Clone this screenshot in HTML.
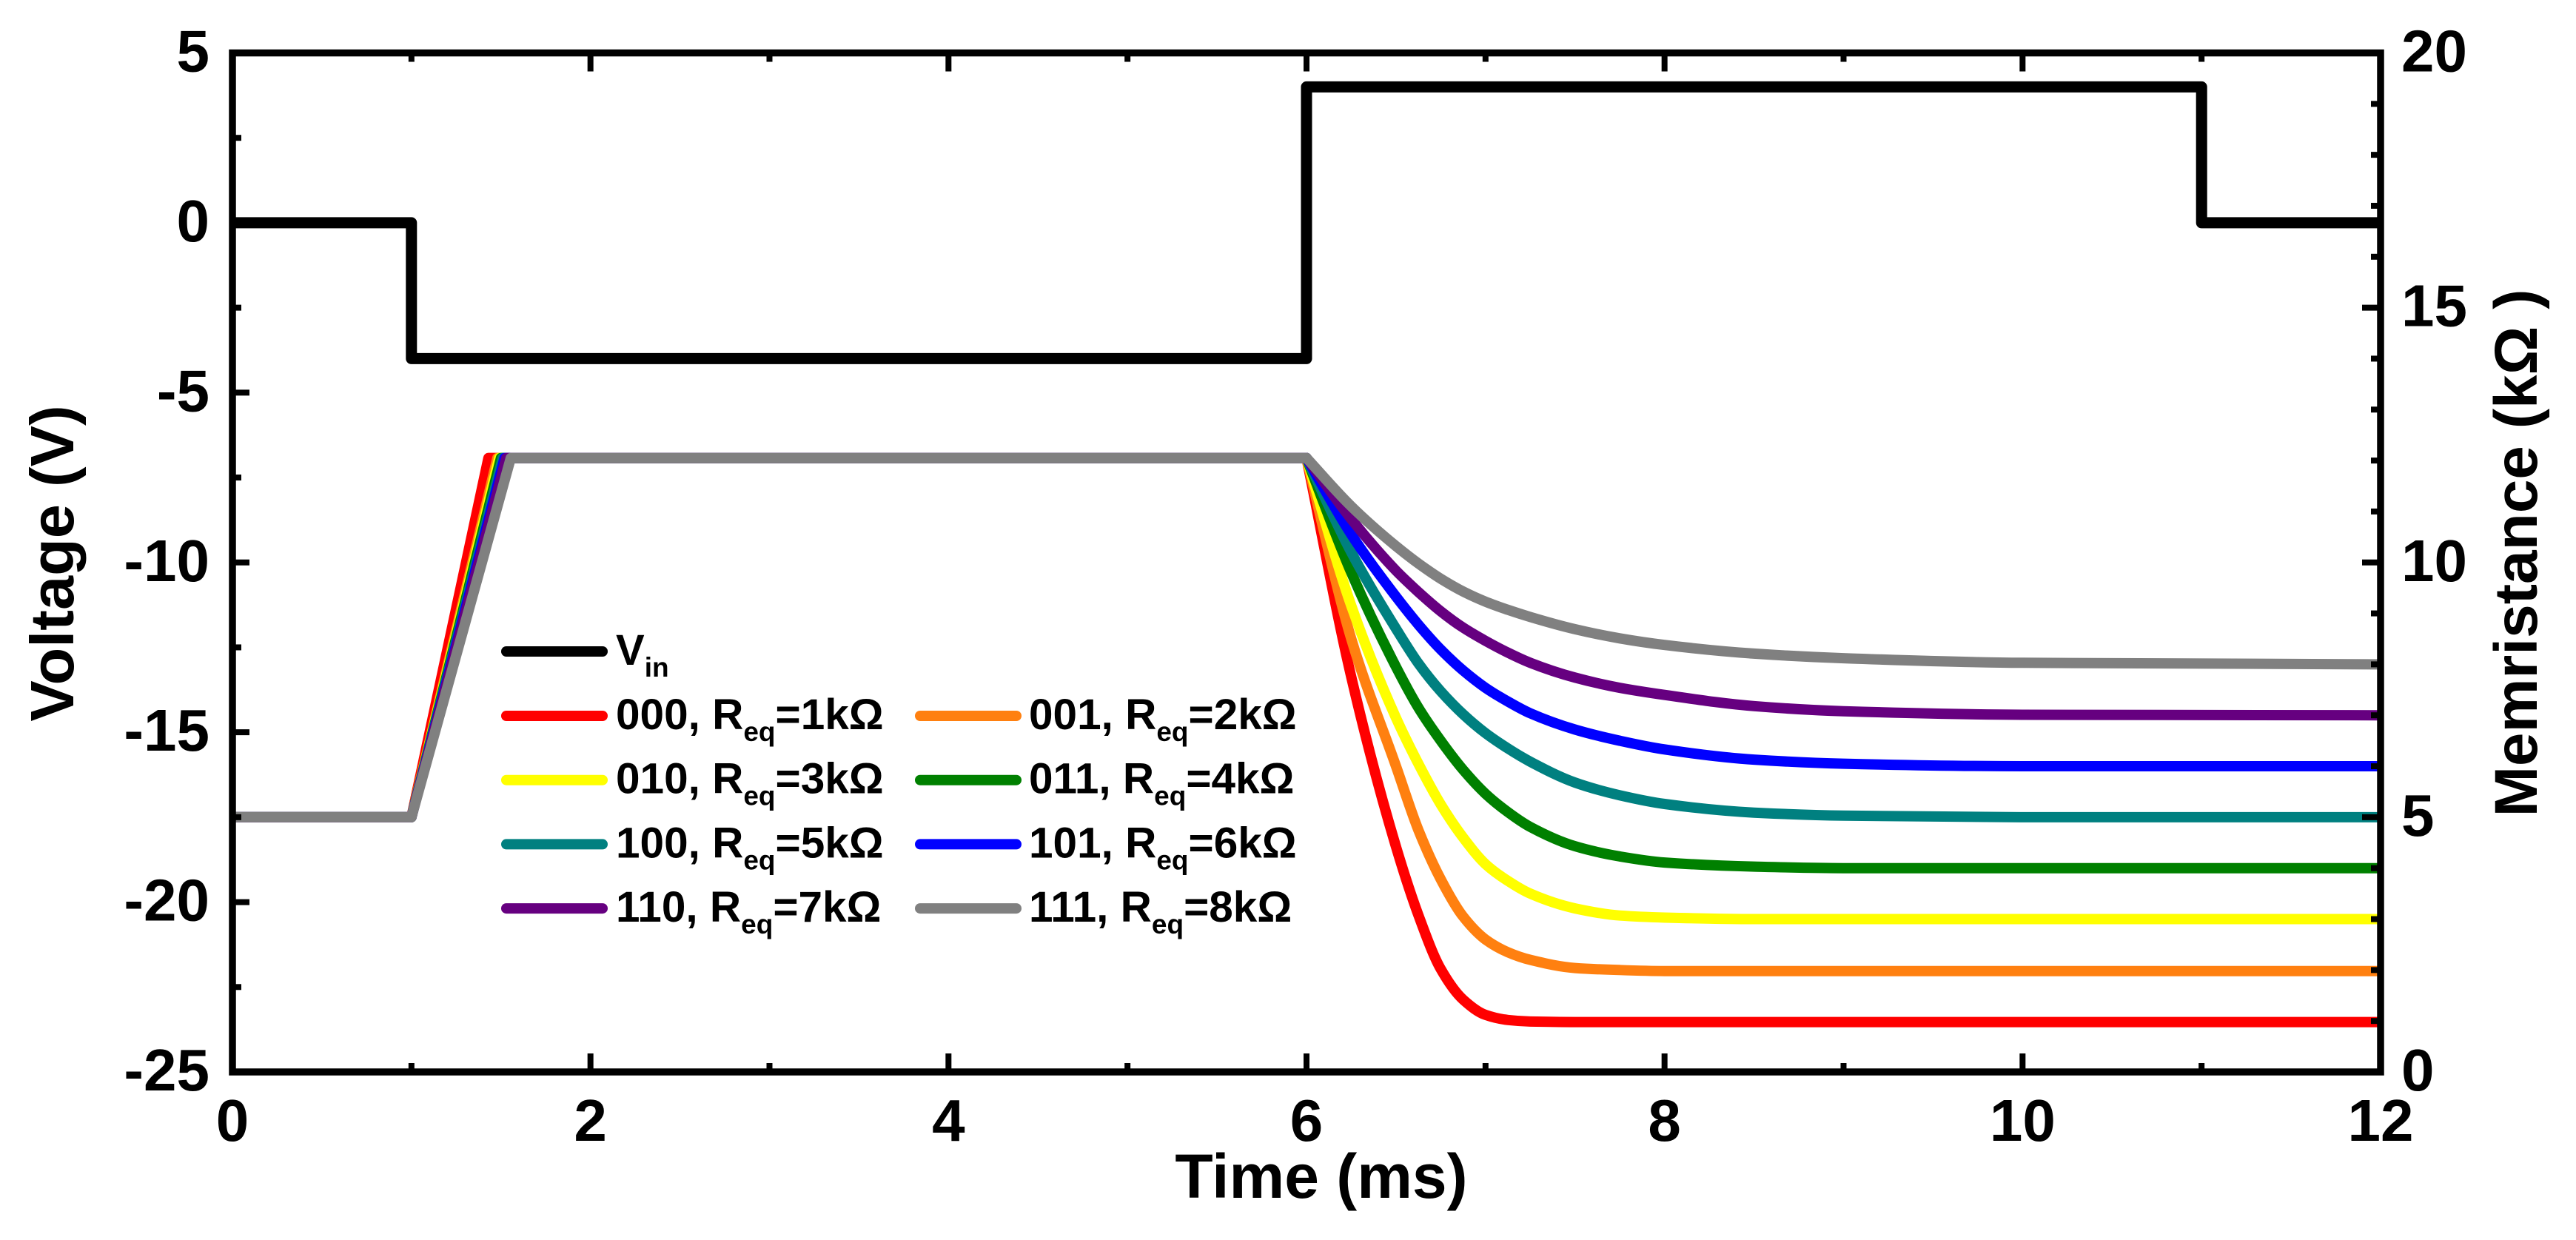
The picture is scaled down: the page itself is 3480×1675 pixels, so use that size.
<!DOCTYPE html>
<html lang="en">
<head>
<meta charset="utf-8">
<title>Voltage and memristance versus time</title>
<style>
  html, body { margin: 0; padding: 0; background: #ffffff; }
  svg { display: block; }
  text { font-family: "Liberation Sans", "DejaVu Sans", sans-serif; font-weight: bold; fill: #000000; }
</style>
</head>
<body>
<svg id="chart" xmlns="http://www.w3.org/2000/svg" width="3480" height="1675" viewBox="0 0 3480 1675">
  <rect x="0" y="0" width="3480" height="1675" fill="#ffffff"/>
  <defs>
    <clipPath id="plot-clip"><rect x="314" y="71" width="2902" height="1377"/></clipPath>
  </defs>
  <g id="series-layer" clip-path="url(#plot-clip)"></g>
  <g id="axis-layer"></g>
  <g id="legend-layer"></g>
  <text x="1785" y="1618" font-size="84" text-anchor="middle">Time (ms)</text>
  <text transform="translate(99 761) rotate(-90)" font-size="83" text-anchor="middle">Voltage (V)</text>
  <text transform="translate(3427 747) rotate(-90)" font-size="82" text-anchor="middle">Memristance (kΩ )</text>
</svg>
<script>
// Axis data
const xTickLabels = [0, 2, 4, 6, 8, 10, 12];
const xMinorTicks = [1, 3, 5, 7, 9, 11];
const voltageTickLabels = [5, 0, -5, -10, -15, -20, -25];
const voltageMinorTicks = [2.5, -2.5, -7.5, -12.5, -17.5, -22.5];
const memristanceTickLabels = [20, 15, 10, 5, 0];
const memristanceMinorTicks = [19, 18, 17, 16, 14, 13, 12, 11, 9, 8, 7, 6, 4, 3, 2, 1];

// Input voltage
const vinTimes = [0, 1, 1, 6, 6, 11, 11, 12];
const vinValues = [0, 0, -4, -4, 4, 4, 0, 0];

// Memristance curves (kOhm)
const seriesLabels = ['000', '001', '010', '011', '100', '101', '110', '111'];
const seriesReq = ['1', '2', '3', '4', '5', '6', '7', '8'];
const seriesColors = ['#ff0000', '#ff8010', '#ffff00', '#008000', '#008080', '#0000ff', '#660080', '#808080'];
const riseStartTime = 1;
const startMemristance = 5;
const peakMemristance = 12.05;
const riseEndTimes = [1.43, 1.48, 1.49, 1.5, 1.51, 1.52, 1.53, 1.555];
const decayTimes = [6, 6.25, 6.5, 6.625, 6.75, 6.875, 7, 7.125, 7.25, 7.5, 7.75, 8, 8.5, 9, 10, 12];
const decay000 = [12.05, 7.75, 4.42, 3.08, 2.02, 1.42, 1.12, 1.02, 0.99, 0.98, 0.98, 0.98, 0.98, 0.98, 0.98, 0.98];
const decay001 = [12.05, 8.5, 6.0, 4.75, 3.78, 3.05, 2.6, 2.35, 2.2, 2.04, 2.0, 1.98, 1.98, 1.98, 1.98, 1.98];
const decay010 = [12.05, 9.15, 6.95, 6.05, 5.25, 4.6, 4.08, 3.75, 3.5, 3.21, 3.07, 3.03, 3.0, 3.0, 3.0, 3.0];
const decay011 = [12.05, 9.8, 7.95, 7.15, 6.5, 5.93, 5.46, 5.1, 4.81, 4.43, 4.23, 4.11, 4.03, 4.0, 4.0, 4.0];
const decay100 = [12.05, 10.2, 8.7, 8.02, 7.47, 7.02, 6.65, 6.35, 6.09, 5.68, 5.43, 5.26, 5.09, 5.03, 5.0, 5.0];
const decay101 = [12.05, 10.55, 9.33, 8.78, 8.29, 7.88, 7.54, 7.27, 7.04, 6.72, 6.5, 6.33, 6.13, 6.05, 6.0, 6.0];
const decay110 = [12.05, 10.85, 9.84, 9.42, 9.04, 8.72, 8.46, 8.23, 8.03, 7.74, 7.54, 7.4, 7.18, 7.08, 7.01, 7.0];
const decay111 = [12.05, 11.1, 10.32, 9.98, 9.68, 9.43, 9.23, 9.07, 8.93, 8.69, 8.51, 8.38, 8.21, 8.12, 8.03, 8.0];
const seriesDecay = [decay000, decay001, decay010, decay011, decay100, decay101, decay110, decay111];

// Scales
const plotLeft = 314, plotRight = 3216, plotTop = 71.5, plotBottom = 1448;
function xScale(t) { return plotLeft + (t / 12) * (plotRight - plotLeft); }
function voltageScale(v) { return plotTop + ((5 - v) / 30) * (plotBottom - plotTop); }
function memristanceScale(m) { return plotBottom - (m / 20) * (plotBottom - plotTop); }

const SVG_NS = 'http://www.w3.org/2000/svg';
const seriesLayer = document.getElementById('series-layer');
const axisLayer = document.getElementById('axis-layer');
const legendLayer = document.getElementById('legend-layer');

function monotoneSegments(points) {
  const n = points.length;
  const dx = [], slope = [], tangent = [];
  for (let i = 0; i < n - 1; i++) {
    dx.push(points[i + 1][0] - points[i][0]);
    slope.push((points[i + 1][1] - points[i][1]) / dx[i]);
  }
  tangent.push(slope[0]);
  for (let i = 1; i < n - 1; i++) {
    if (slope[i - 1] * slope[i] <= 0) {
      tangent.push(0);
    } else {
      const w1 = 2 * dx[i] + dx[i - 1];
      const w2 = dx[i] + 2 * dx[i - 1];
      tangent.push((w1 + w2) / (w1 / slope[i - 1] + w2 / slope[i]));
    }
  }
  tangent.push(slope[n - 2]);
  let d = '';
  for (let i = 0; i < n - 1; i++) {
    const h = dx[i] / 3;
    d += ' C' + (points[i][0] + h).toFixed(1) + ' ' + (points[i][1] + tangent[i] * h).toFixed(1) +
         ' ' + (points[i + 1][0] - h).toFixed(1) + ' ' + (points[i + 1][1] - tangent[i + 1] * h).toFixed(1) +
         ' ' + points[i + 1][0].toFixed(1) + ' ' + points[i + 1][1].toFixed(1);
  }
  return d;
}

// Memristance series
seriesDecay.forEach(function (values, i) {
  const points = decayTimes.map(function (t, k) { return [xScale(t), memristanceScale(values[k])]; });
  const d = 'M' + xScale(0) + ' ' + memristanceScale(startMemristance) +
    ' L' + xScale(riseStartTime) + ' ' + memristanceScale(startMemristance) +
    ' L' + xScale(riseEndTimes[i]) + ' ' + memristanceScale(peakMemristance) +
    ' L' + xScale(decayTimes[0]) + ' ' + memristanceScale(values[0]) +
    monotoneSegments(points);
  const path = document.createElementNS(SVG_NS, 'path');
  path.setAttribute('d', d);
  path.setAttribute('fill', 'none');
  path.setAttribute('stroke', seriesColors[i]);
  path.setAttribute('stroke-width', '14');
  path.setAttribute('stroke-linejoin', 'round');
  
  
  seriesLayer.appendChild(path);
});

// Input voltage line
const vinPath = document.createElementNS(SVG_NS, 'path');
vinPath.setAttribute('d', vinTimes.map(function (t, k) {
  return (k === 0 ? 'M' : 'L') + xScale(t).toFixed(1) + ' ' + voltageScale(vinValues[k]).toFixed(1);
}).join(' '));
vinPath.setAttribute('fill', 'none');
vinPath.setAttribute('stroke', '#000000');
vinPath.setAttribute('stroke-width', '15');
vinPath.setAttribute('stroke-linejoin', 'round');


seriesLayer.appendChild(vinPath);

// Axis helpers
function addTick(x1, y1, x2, y2, name) {
  const line = document.createElementNS(SVG_NS, 'line');
  line.setAttribute('x1', x1);
  line.setAttribute('y1', y1);
  line.setAttribute('x2', x2);
  line.setAttribute('y2', y2);
  line.setAttribute('stroke', '#000000');
  line.setAttribute('stroke-width', '8');
  
  
  axisLayer.appendChild(line);
}
function addLabel(x, y, str, anchor, name) {
  const label = document.createElementNS(SVG_NS, 'text');
  label.setAttribute('x', x);
  label.setAttribute('y', y);
  label.setAttribute('font-size', '80');
  label.setAttribute('text-anchor', anchor);
  label.textContent = str;
  
  
  axisLayer.appendChild(label);
}

const frame = document.createElementNS(SVG_NS, 'rect');
frame.setAttribute('x', plotLeft);
frame.setAttribute('y', plotTop);
frame.setAttribute('width', plotRight - plotLeft);
frame.setAttribute('height', plotBottom - plotTop);
frame.setAttribute('fill', 'none');
frame.setAttribute('stroke', '#000000');
frame.setAttribute('stroke-width', '9.5');


axisLayer.appendChild(frame);

xTickLabels.forEach(function (t) {
  const x = xScale(t);
  addTick(x, plotBottom, x, plotBottom - 25, 'x-major-tick-bottom');
  addTick(x, plotTop, x, plotTop + 25, 'x-major-tick-top');
  addLabel(x, 1541, String(t), 'middle', 'x-tick-label');
});
xMinorTicks.forEach(function (t) {
  const x = xScale(t);
  addTick(x, plotBottom, x, plotBottom - 12, 'x-minor-tick-bottom');
  addTick(x, plotTop, x, plotTop + 12, 'x-minor-tick-top');
});
voltageTickLabels.forEach(function (v) {
  const y = voltageScale(v);
  addTick(plotLeft, y, plotLeft + 23, y, 'voltage-major-tick');
  addLabel(283, y + 25, String(v), 'end', 'voltage-tick-label');
});
voltageMinorTicks.forEach(function (v) {
  const y = voltageScale(v);
  addTick(plotLeft, y, plotLeft + 12, y, 'voltage-minor-tick');
});
memristanceTickLabels.forEach(function (m) {
  const y = memristanceScale(m);
  addTick(plotRight, y, plotRight - 25, y, 'memristance-major-tick');
  addLabel(3244, y + 25, String(m), 'start', 'memristance-tick-label');
});
memristanceMinorTicks.forEach(function (m) {
  const y = memristanceScale(m);
  addTick(plotRight, y, plotRight - 13, y, 'memristance-minor-tick');
});

// Legend
function addHandle(x1, y, color, name) {
  const line = document.createElementNS(SVG_NS, 'line');
  line.setAttribute('x1', x1);
  line.setAttribute('y1', y);
  line.setAttribute('x2', x1 + 130);
  line.setAttribute('y2', y);
  line.setAttribute('stroke', color);
  line.setAttribute('stroke-width', '14');
  line.setAttribute('stroke-linecap', 'round');
  
  
  legendLayer.appendChild(line);
}
function addSub(parent, str, dy, size) {
  const span = document.createElementNS(SVG_NS, 'tspan');
  span.setAttribute('dy', dy);
  span.setAttribute('font-size', size);
  span.textContent = str;
  parent.appendChild(span);
}

addHandle(684, 880, '#000000', 'legend-handle-vin');
const vinLabel = document.createElementNS(SVG_NS, 'text');
vinLabel.setAttribute('x', 832);
vinLabel.setAttribute('y', 898);
vinLabel.setAttribute('font-size', '58');


addSub(vinLabel, 'V', 0, 58);
addSub(vinLabel, 'in', 16, 37);
legendLayer.appendChild(vinLabel);

seriesLabels.forEach(function (code, i) {
  const col = i % 2;
  const row = Math.floor(i / 2);
  const baseline = 985 + row * 86.7;
  addHandle(col === 0 ? 684 : 1243, baseline - 18, seriesColors[i], 'legend-handle-' + code);
  const label = document.createElementNS(SVG_NS, 'text');
  label.setAttribute('x', col === 0 ? 832 : 1390);
  label.setAttribute('y', baseline);
  label.setAttribute('font-size', '58.5');
  
  
  addSub(label, code + ', R', 0, 58.5);
  addSub(label, 'eq', 16, 37);
  addSub(label, '=' + seriesReq[i] + 'kΩ', -16, 58.5);
  legendLayer.appendChild(label);
});
</script>
</body>
</html>
